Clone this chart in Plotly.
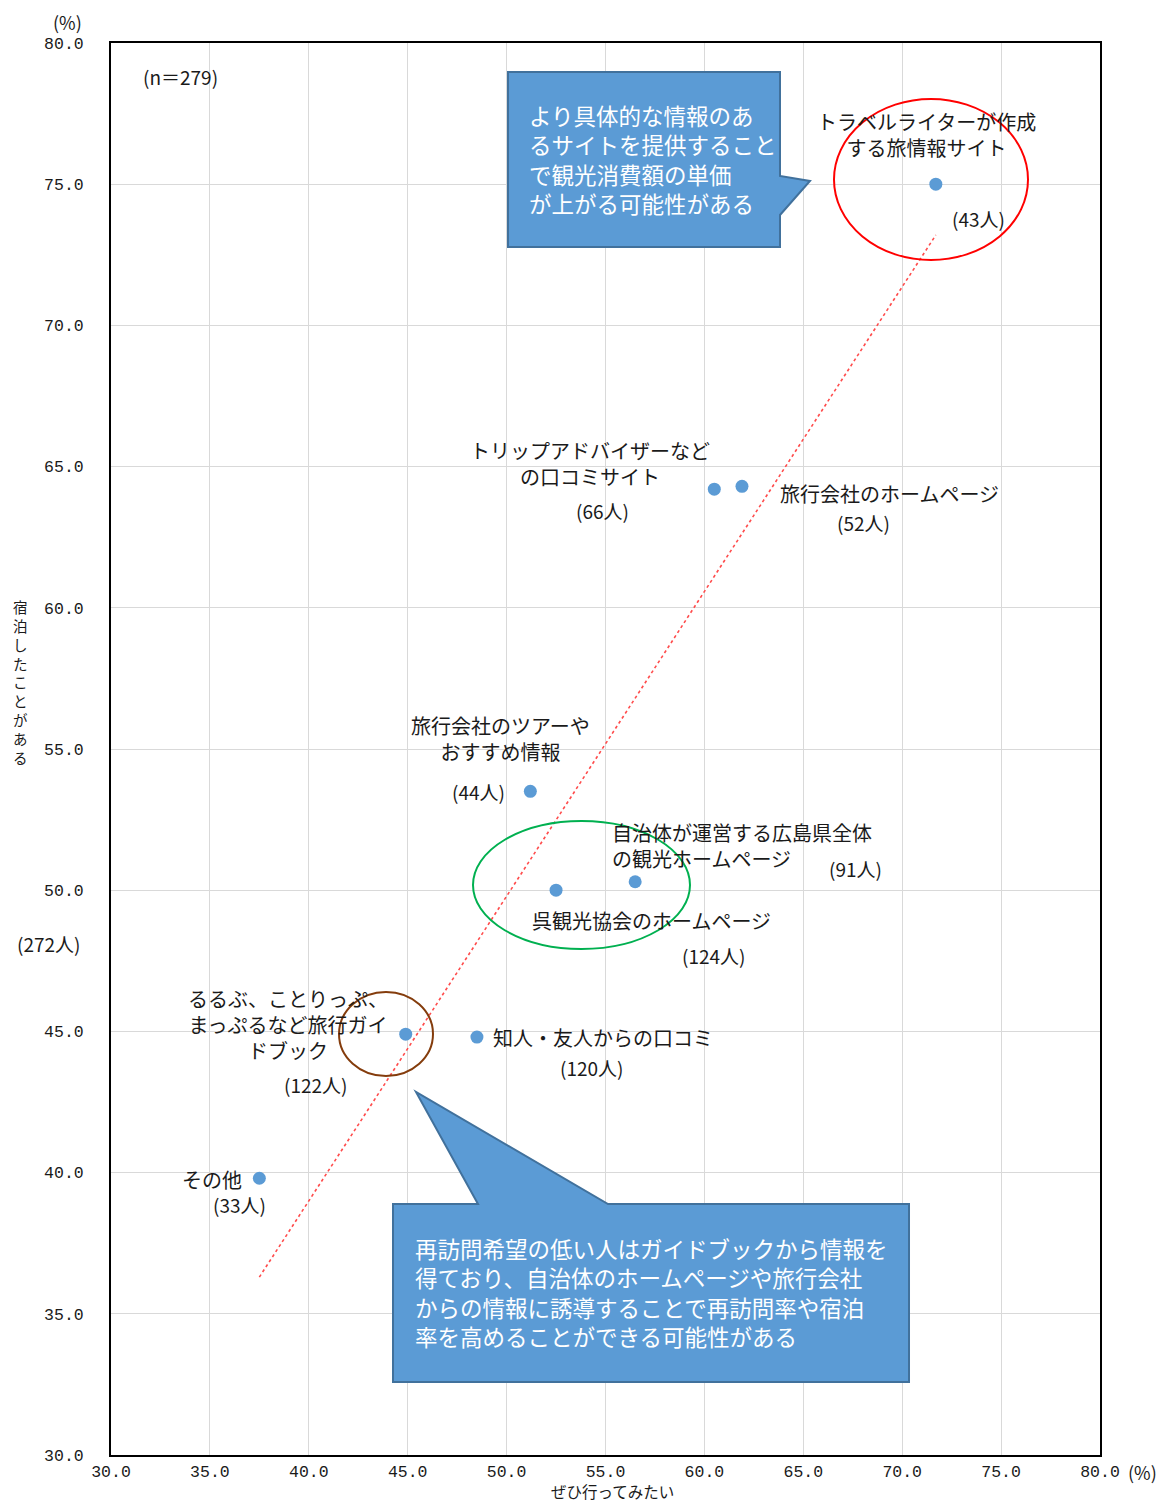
import plotly.graph_objects as go

# ---------------- data ----------------
categories = [
    "トラベルライターが作成する旅情報サイト",
    "トリップアドバイザーなどの口コミサイト",
    "旅行会社のホームページ",
    "旅行会社のツアーやおすすめ情報",
    "自治体が運営する広島県全体の観光ホームページ",
    "呉観光協会のホームページ",
    "るるぶ、ことりっぷ、まっぷるなど旅行ガイドブック",
    "知人・友人からの口コミ",
    "その他",
]
x_values = [71.7, 60.5, 61.9, 51.2, 56.5, 52.5, 44.9, 48.5, 37.5]   # ぜひ行ってみたい (%)
y_values = [75.0, 64.2, 64.3, 53.5, 50.3, 50.0, 44.9, 44.8, 39.8]   # 宿泊したことがある (%)
counts = [43, 66, 52, 44, 91, 124, 122, 120, 33]

trend_x = [37.5, 71.7]
trend_y = [36.3, 73.2]

x_ticks = [30, 35, 40, 45, 50, 55, 60, 65, 70, 75, 80]
y_ticks = [30, 35, 40, 45, 50, 55, 60, 65, 70, 75, 80]

n_total = 279
n_stay = 272
x_title = "ぜひ行ってみたい"
y_title = "宿泊したことがある"
note_top = ["より具体的な情報のあ", "るサイトを提供すること", "で観光消費額の単価", "が上がる可能性がある"]
note_bottom = ["再訪問希望の低い人はガイドブックから情報を", "得ており、自治体のホームページや旅行会社",
               "からの情報に誘導することで再訪問率や宿泊", "率を高めることができる可能性がある"]

# ---------------- layout helpers ----------------
W, H = 1165, 1504
L, R, T, B = 111, 1100, 43, 1455


def P(px, py):
    return (px - L) / (R - L), (B - py) / (B - T)


TXT = "#1a1a1a"
LABEL_FONT = dict(family="Noto Sans CJK JP", size=20, color=TXT)
NUM_FONT = dict(family="Noto Sans CJK JP", size=19, color=TXT)

fig = go.Figure()

fig.add_trace(go.Scatter(
    x=trend_x, y=trend_y, mode="lines",
    line=dict(color="#FF4B4B", width=1.6, dash="dot"),
    hoverinfo="skip", showlegend=False,
))
fig.add_trace(go.Scatter(
    x=x_values, y=y_values, mode="markers",
    marker=dict(color="#5B9BD5", size=13),
    text=categories, showlegend=False,
))

annotations = []


def ann(text, px, py, xanchor="center", font=LABEL_FONT, align="center", yanchor="middle"):
    x, y = P(px, py)
    annotations.append(dict(text=text, x=x, y=y, xref="paper", yref="paper",
                            xanchor=xanchor, yanchor=yanchor, showarrow=False,
                            font=font, align=align))


def cnt(i):
    return f"({counts[i]}人)"


# point labels
ann("トラベルライターが作成<br>する旅情報サイト", 926, 134)
ann(cnt(0), 978, 218, font=NUM_FONT)
ann("トリップアドバイザーなど<br>の口コミサイト", 590, 464)
ann(cnt(1), 602, 511, font=NUM_FONT)
ann("旅行会社のホームページ", 778, 493, xanchor="left")
ann(cnt(2), 863, 522, font=NUM_FONT)
ann("旅行会社のツアーや<br>おすすめ情報", 500, 738)
ann(cnt(3), 478, 792, font=NUM_FONT)
ann("自治体が運営する広島県全体<br>の観光ホームページ", 610, 845, xanchor="left", align="left")
ann(cnt(4), 855, 869, font=NUM_FONT)
ann("呉観光協会のホームページ", 651, 920)
ann(cnt(5), 713, 955, font=NUM_FONT)
ann("るるぶ、ことりっぷ、<br>まっぷるなど旅行ガイ<br>ドブック", 288, 1024)
ann(cnt(6), 315, 1084, font=NUM_FONT)
ann("知人・友人からの口コミ", 491, 1037, xanchor="left")
ann(cnt(7), 591, 1067, font=NUM_FONT)
ann("その他", 244, 1179, xanchor="right")
ann(cnt(8), 239, 1204, font=NUM_FONT)
ann(f"({n_stay}人)", 48, 943, font=NUM_FONT)
ann(f"(n＝{n_total})", 180, 76, font=NUM_FONT)
ann("(%)", 67, 22, font=dict(family="Noto Sans CJK JP", size=18, color=TXT))
ann("(%)", 1142, 1472, font=dict(family="Noto Sans CJK JP", size=18, color=TXT))
ann(x_title, 612, 1504, yanchor="bottom", font=dict(family="Noto Sans CJK JP", size=15.5, color=TXT))
ann("<br>".join(list(y_title)), 20, 682, font=dict(family="Noto Sans CJK JP", size=14.5, color=TXT))

# callout texts
CALL_FONT = dict(family="Noto Sans CJK JP", size=22.5, color="white")
ann("<br>".join(note_top), 527, 159, xanchor="left", align="left", font=CALL_FONT)
ann("<br>".join(note_bottom), 413, 1292, xanchor="left", align="left", font=CALL_FONT)


def path(points):
    s = ""
    for i, (px, py) in enumerate(points):
        x, y = P(px, py)
        s += ("M" if i == 0 else "L") + f"{x:.5f},{y:.5f} "
    return s + "Z"


shapes = []
# callout 1
shapes.append(dict(type="path", xref="paper", yref="paper",
                   path=path([(508, 72), (780, 72), (780, 176), (810, 181), (780, 215),
                              (780, 247), (508, 247)]),
                   fillcolor="#5B9BD5", line=dict(color="#41719C", width=2), layer="above"))
# callout 2
shapes.append(dict(type="path", xref="paper", yref="paper",
                   path=path([(393, 1204), (478, 1204), (416, 1092), (608, 1204),
                              (909, 1204), (909, 1382), (393, 1382)]),
                   fillcolor="#5B9BD5", line=dict(color="#41719C", width=2), layer="above"))


def ellipse(x0, y0, x1, y1, color):
    a, b = P(x0, y1)
    c, d = P(x1, y0)
    shapes.append(dict(type="circle", xref="paper", yref="paper", x0=a, y0=b, x1=c, y1=d,
                       line=dict(color=color, width=2), layer="above"))


ellipse(834, 99, 1028, 260, "#FF0000")
ellipse(473, 821, 690, 949, "#00B050")
ellipse(339, 992, 433, 1076, "#843C0C")

TICK_FONT = dict(family="Liberation Mono", size=16.5, color=TXT)

fig.update_layout(
    width=W, height=H,
    margin=dict(l=L, r=W - R, t=T, b=H - B),
    plot_bgcolor="white", paper_bgcolor="white",
    showlegend=False,
    annotations=annotations,
    shapes=shapes,
    xaxis=dict(range=[30, 80], tickvals=x_ticks, ticktext=[f"{v:.1f}" for v in x_ticks],
               showgrid=True, gridcolor="#D9D9D9", gridwidth=1, zeroline=False,
               showline=True, linecolor="black", linewidth=2, mirror=True,
               ticks="", tickfont=TICK_FONT, ticklabelstandoff=0),
    yaxis=dict(range=[30, 80], tickvals=y_ticks, ticktext=[f"{v:.1f}" for v in y_ticks],
               showgrid=True, gridcolor="#D9D9D9", gridwidth=1, zeroline=False,
               showline=True, linecolor="black", linewidth=2, mirror=True,
               ticks="", tickfont=TICK_FONT, ticklabelstandoff=22),
)

fig.write_html("out.html", config={"displayModeBar": False},
               post_script="document.body.style.margin='0';document.body.style.overflow='hidden';")
